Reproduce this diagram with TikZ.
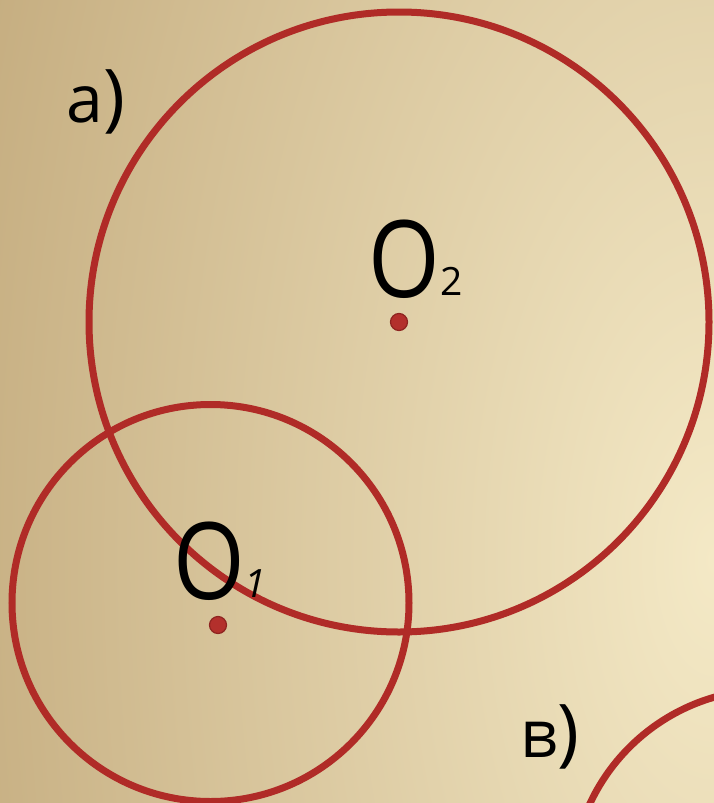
\documentclass[tikz,border=0pt]{standalone}
\usepackage{fontspec}
\setmainfont{Open Sans}
\definecolor{bgin}{HTML}{F4E9C6}
\definecolor{bgout}{HTML}{C2A97B}
\definecolor{ring}{HTML}{B02B27}
\definecolor{dotfill}{HTML}{B3302C}
\definecolor{dotline}{HTML}{8E2420}
\newcommand{\narrowO}{\scalebox{0.86}[1]{O}}
\newcommand{\tallparen}{{\fontsize{74}{76}\selectfont)}}
\tikzset{
  ringline/.style={draw=ring, line width=7pt},
  centerdot/.style={fill=dotfill, draw=dotline, line width=1.2pt},
  bigletter/.style={inner sep=0pt, anchor=base, font=\fontsize{107}{110}\selectfont},
  subletter/.style={inner sep=0pt, anchor=base, font=\fontsize{39}{42}\selectfont},
  caselabel/.style={inner sep=0pt, anchor=base, font=\fontsize{66}{70}\selectfont},
}
\begin{document}
\begin{tikzpicture}[x=1pt,y=-1pt]
\useasboundingbox (0,0) rectangle (714,803);
\begin{scope}
\clip (0,0) rectangle (714,803);
\shade[inner color=bgin, outer color=bgout] (714,560) ellipse (840pt and 1650pt);
\end{scope}
\coordinate (c2) at (399,322);
\coordinate (c1) at (210.5,603);
\coordinate (c3) at (769,887);
\begin{scope}
\clip (0,0) rectangle (714,803);
\draw[ringline] (c2) circle (310pt);
\draw[ringline] (c1) circle (198.5pt);
\draw[ringline] (c3) circle (197.5pt);
\end{scope}
\coordinate (d2) at (399,322);
\coordinate (d1) at (218,625);
\path[centerdot] (d2) circle (8.5pt);
\path[centerdot] (d1) circle (8.5pt);
\node[bigletter] (o2) at (404,297) {\narrowO};
\node[subletter] (s2) at (452,295) {2};
\node[bigletter] (o1) at (209,599) {\narrowO};
\node[subletter] (s1) at (255,597) {\itshape 1};
\node[caselabel] (la) at (96,122) {a\kern1pt\tallparen};
\node[caselabel] (lb) at (550,757) {в\kern-1pt\tallparen};
\end{tikzpicture}
\end{document}
